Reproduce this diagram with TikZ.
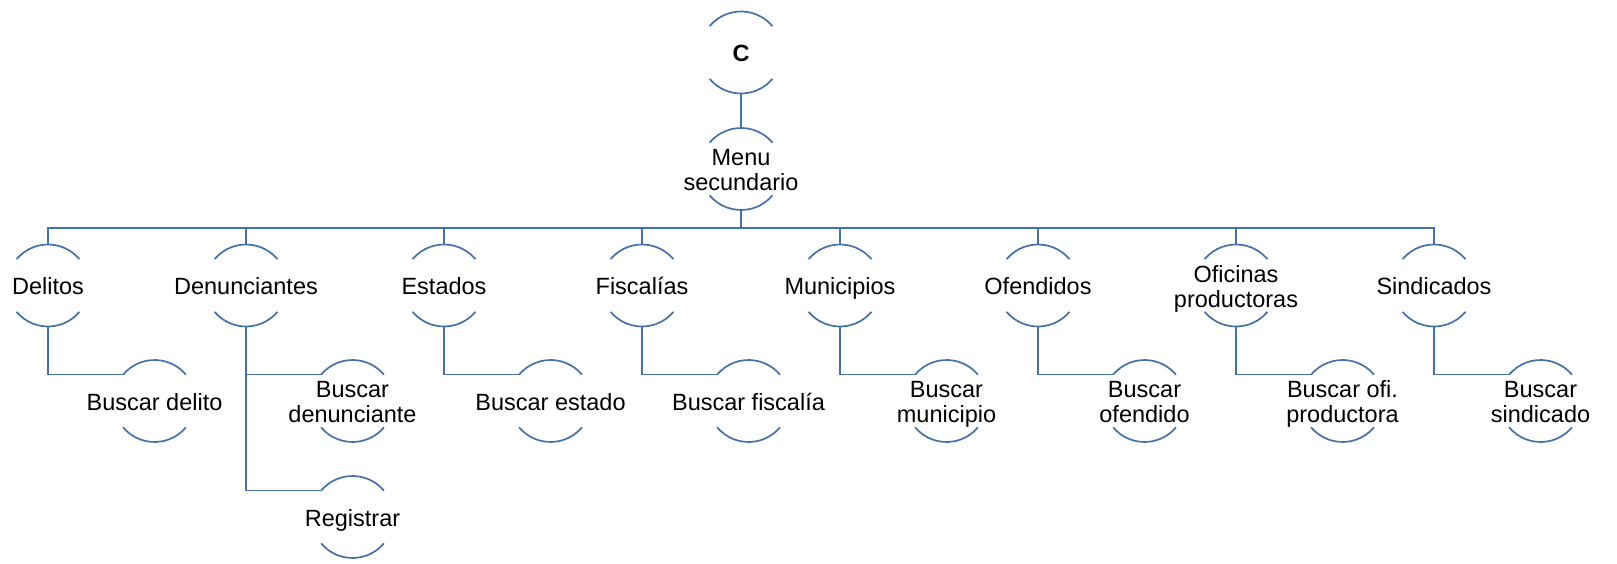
\documentclass[tikz,border=0pt]{standalone}
\usepackage{fontspec}
\setmainfont{Liberation Sans}
\usetikzlibrary{calc}
\definecolor{treeblue}{RGB}{68,113,170}
\newcommand{\txt}[1]{\makebox[0pt]{\raisebox{0pt}[\dimexpr\height+8pt\relax]{%
    \begin{tabular}{@{}c@{}}#1\end{tabular}}}}
\tikzset{
    bubble/.style={circle, minimum size=82pt, inner sep=0pt, outer sep=0pt,
        font=\fontsize{23.5}{25}\selectfont},
    link/.style={draw=treeblue, line width=1.7pt},
}

\begin{document}
\begin{tikzpicture}[x=1pt, y=1pt]
    \useasboundingbox (0,0) rectangle (1617,-564);

    \node[bubble] (c) at (741,-52.5) {\txt{\textbf{C}}};
    \node[bubble] (menu) at (741,-169) {\txt{Menu\\secundario}};

    % first level
    \foreach \n/\t [count=\i from 0] in {del/Delitos, den/Denunciantes, est/Estados,
        fis/Fiscalías, mun/Municipios, ofe/Ofendidos, ofi/{Oficinas\\productoras},
        sin/Sindicados}
        \node[bubble] (\n) at (48+198*\i,-285.5) {\txt{\t}};

    % second level
    \foreach \p/\n/\t in {del/bdel/Buscar delito, den/bden/{Buscar\\denunciante},
        est/best/Buscar estado, fis/bfis/Buscar fiscalía, mun/bmun/{Buscar\\municipio},
        ofe/bofe/{Buscar\\ofendido}, ofi/bofi/{Buscar ofi.\\productora},
        sin/bsin/{Buscar\\sindicado}}
        \node[bubble] (\n) at ($(\p)+(106.5,-115.5)$) {\txt{\t}};
    \node[bubble] (reg) at ($(bden)+(0,-116)$) {\txt{Registrar}};

    % arcs
    \foreach \n in {c, menu, del, den, est, fis, mun, ofe, ofi, sin,
        bdel, bden, reg, best, bfis, bmun, bofe, bofi, bsin}
        \draw[link] (\n.140) arc[start angle=140, end angle=40, radius=41pt]
            (\n.-140) arc[start angle=-140, end angle=-40, radius=41pt];

    % connectors
    \coordinate (bar) at ($(menu.south)+(0,-18)$);
    \draw[link] (c.south) -- (menu.north);
    \draw[link] (menu.south) -- (bar);
    \foreach \n in {del, den, est, fis, mun, ofe, ofi, sin}
        \draw[link] (bar) -| (\n.north);
    \foreach \p/\n in {del/bdel, den/bden, den/reg, est/best, fis/bfis, mun/bmun,
        ofe/bofe, ofi/bofi, sin/bsin}
        \draw[link] (\p.south) |- (\n.140);
\end{tikzpicture}
\end{document}
